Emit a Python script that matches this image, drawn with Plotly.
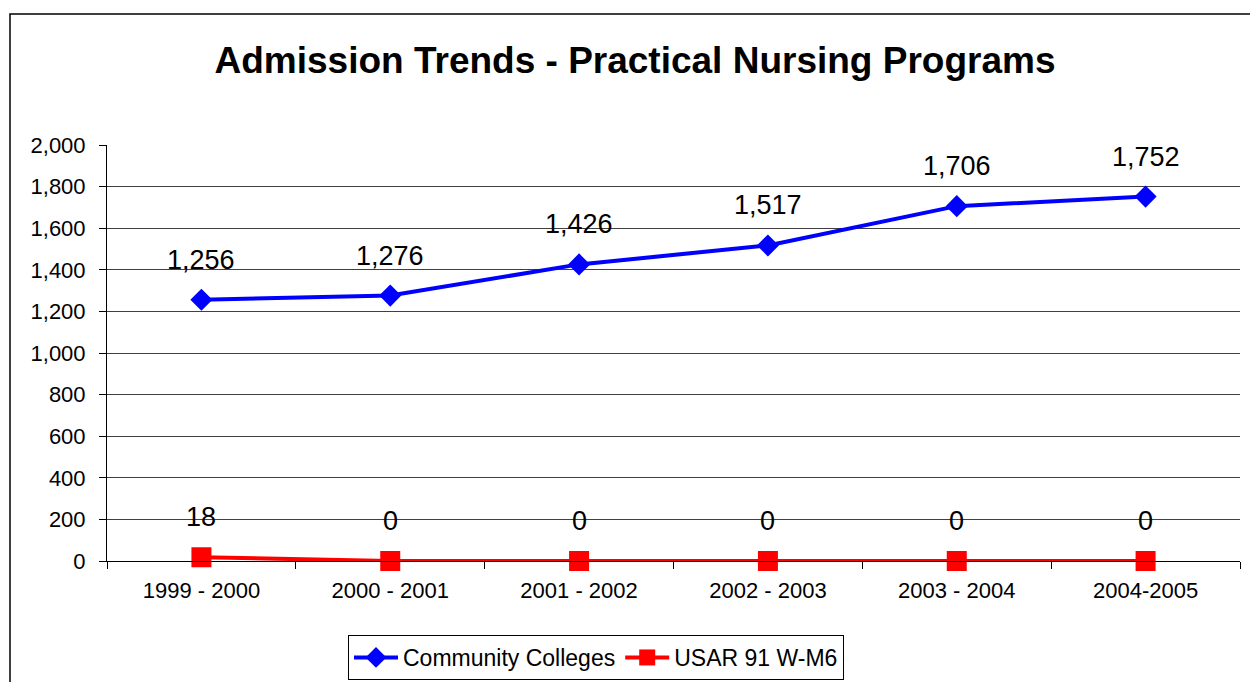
import plotly.graph_objects as go

categories = ["1999 - 2000", "2000 - 2001", "2001 - 2002", "2002 - 2003", "2003 - 2004", "2004-2005"]
community_colleges = [1256, 1276, 1426, 1517, 1706, 1752]
usar_91w_m6 = [18, 0, 0, 0, 0, 0]
y_ticks = list(range(0, 2001, 200))

FONT = "Liberation Sans, Arial, sans-serif"

fig = go.Figure()
fig.add_trace(go.Scatter(
    x=categories, y=community_colleges, name="Community Colleges",
    mode="lines+markers", cliponaxis=False,
    line=dict(color="#0000FF", width=4),
    marker=dict(symbol="diamond", size=17, color="#0000FF"),
))
fig.add_trace(go.Scatter(
    x=categories, y=usar_91w_m6, name="USAR 91 W-M6",
    mode="lines+markers", cliponaxis=False,
    line=dict(color="#FF0000", width=4),
    marker=dict(symbol="square", size=20, color="#FF0000"),
))

annotations = []
for series in (community_colleges, usar_91w_m6):
    for c, v in zip(categories, series):
        annotations.append(dict(
            x=c, y=v, xref="x", yref="y", text=f"{v:,}", showarrow=False,
            yshift=40, font=dict(family=FONT, size=27, color="black"),
        ))

W, H = 1250, 682
L, R, T, B = 107, 10, 145, 121
pw, ph = W - L - R, H - T - B

def px_x(sx):
    return (sx - L) / pw

def px_y(sy):
    return (H - B - sy) / ph

fig.update_layout(
    width=W, height=H,
    margin=dict(l=L, r=R, t=T, b=B, autoexpand=False),
    paper_bgcolor="white", plot_bgcolor="white",
    font=dict(family=FONT, color="black"),
    title=dict(text="<b>Admission Trends - Practical Nursing Programs</b>",
               x=635 / W, xanchor="center", xref="container",
               y=1 - 60 / H, yanchor="middle", yref="container",
               font=dict(size=37, color="black", family=FONT)),
    showlegend=True,
    legend=dict(orientation="h", x=px_x(596), xanchor="center",
                y=px_y(635), yanchor="top",
                bordercolor="black", borderwidth=1,
                font=dict(size=23, family=FONT, color="black"),
                itemsizing="trace", itemwidth=44, tracegroupgap=0),
    annotations=annotations,
    shapes=[dict(type="rect", xref="paper", yref="paper",
                 x0=px_x(10), x1=px_x(1270),
                 y0=px_y(720), y1=px_y(14),
                 line=dict(color="black", width=1.5), fillcolor="rgba(0,0,0,0)",
                 layer="below")],
)
fig.update_xaxes(
    type="category", range=[-0.5, 5.5], tickson="boundaries",
    ticks="outside", ticklen=7, tickcolor="black", tickwidth=1,
    showline=True, linecolor="black", linewidth=1, showgrid=False,
    tickfont=dict(size=22, family=FONT, color="black"), ticklabelstandoff=10,
    automargin=False,
)
fig.update_yaxes(
    range=[0, 2000], tickvals=y_ticks, tickformat=",",
    ticks="outside", ticklen=7, tickcolor="black", tickwidth=1,
    showline=True, linecolor="black", linewidth=1,
    showgrid=True, gridcolor="#404040", gridwidth=1, zeroline=False,
    tickfont=dict(size=22, family=FONT, color="black"), ticklabelstandoff=9,
    automargin=False,
)

post = (
    "document.documentElement.style.margin='0';"
    "document.documentElement.style.overflow='hidden';"
    "document.body.style.margin='0';"
    "document.body.style.overflow='hidden';"
    "var gd=document.getElementById('{plot_id}');"
    "gd.style.display='block';"
    "if(gd.parentElement){gd.parentElement.style.display='block';gd.parentElement.style.lineHeight='0';}"
)
fig.write_html("out.html", post_script=post, config={"displayModeBar": False})
